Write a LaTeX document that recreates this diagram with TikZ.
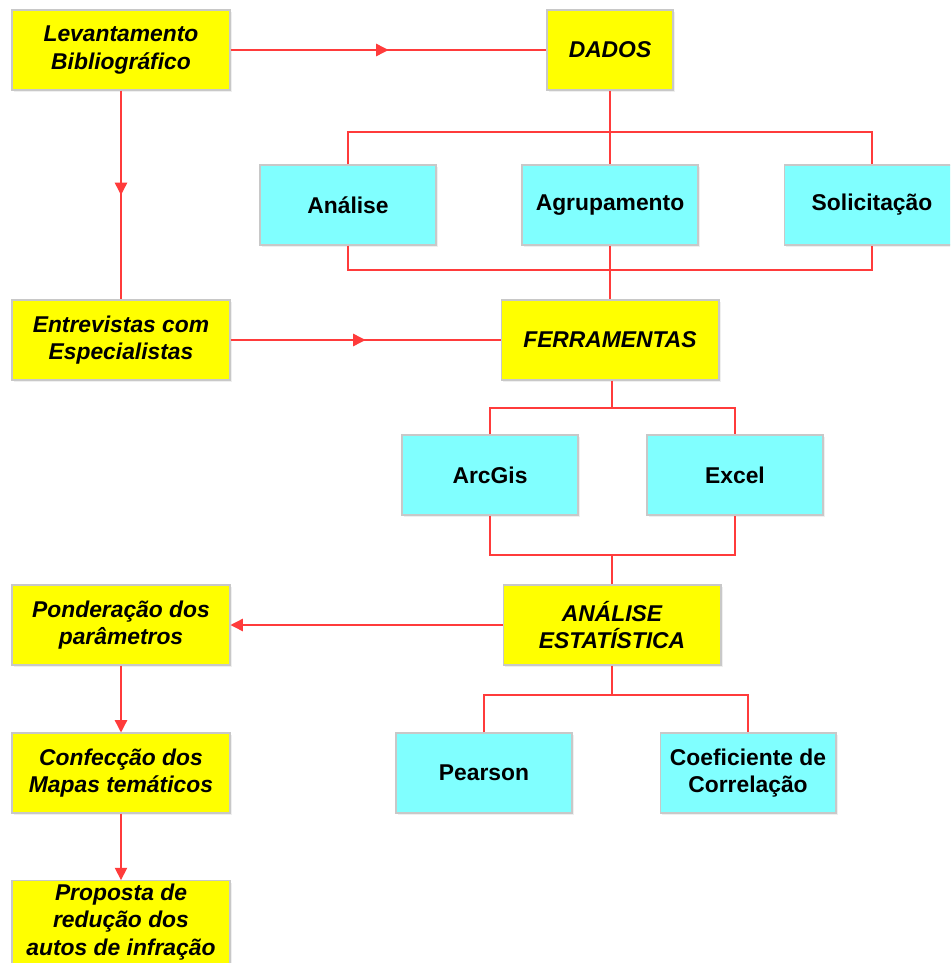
\documentclass[tikz,border=0pt]{standalone}
\usepackage{fontspec}
\setmainfont{Liberation Sans}
\definecolor{BoxYellow}{HTML}{FFFF00}
\definecolor{BoxCyan}{HTML}{80FFFF}
\definecolor{LinkRed}{HTML}{FF3B3B}
\definecolor{EdgeGray}{HTML}{C8C8C8}
\usetikzlibrary{arrows.meta, calc, shadows, decorations.markings}
\tikzset{
  box/.style={draw=EdgeGray, line width=0.6pt, align=center, minimum height=1.6cm, inner sep=2pt,
    font=\fontsize{13}{15.5}\selectfont\bfseries,
    drop shadow={opacity=0.12, shadow xshift=1.2pt, shadow yshift=-1.2pt}},
  yellowbox/.style={box, fill=BoxYellow, minimum width=4.36cm, font=\fontsize{13}{15.5}\selectfont\bfseries\itshape},
  cyanbox/.style={box, fill=BoxCyan, minimum width=3.52cm},
  link/.style={draw=LinkRed, line width=0.8pt},
  arrow/.style={link, -{Triangle[length=7pt, width=7pt]}},
  midarrow/.style={link, postaction={decorate}, decoration={markings,
    mark=at position 0.5 with {\arrow{Triangle[length=7pt, width=7pt]}}}}
}

\begin{document}
\begin{tikzpicture}[x=0.02cm, y=-0.02cm]
\clip (0,0) rectangle (950,963);
\fill[white] (0,0) rectangle (950,963);

% left column
\node[yellowbox] (lev) at (121,50) {Levantamento\\Bibliográfico};
\node[yellowbox] (entrev) at (121,340) {Entrevistas com\\Especialistas};
\node[yellowbox] (pond) at (121,625) {Ponderação dos\\parâmetros};
\node[yellowbox] (confec) at (121,773) {Confecção dos\\Mapas temáticos};
\node[yellowbox] (prop) at (121,922) {Proposta de\\redução dos\\autos de infração};

% main column
\node[yellowbox, minimum width=2.52cm] (dados) at (610,50) {DADOS};
\node[yellowbox] (ferr) at (610,340) {FERRAMENTAS};
\node[yellowbox] (estat) at (612,625) {ANÁLISE\\ESTATÍSTICA};

\node[cyanbox] (analise) at (348,205) {Análise};
\node[cyanbox] (agrup) at (610,205) {Agrupamento};
\node[cyanbox] (solic) at (872,205) {Solicitação};
\node[cyanbox] (arcgis) at (490,475) {ArcGis};
\node[cyanbox] (excel) at (735,475) {Excel};
\node[cyanbox] (pearson) at (484,773) {Pearson};
\node[cyanbox] (coef) at (748,773) {Coeficiente de\\Correlação};

\coordinate (dadosbus) at (610,132);
\coordinate (ferrbus) at (610,270);
\coordinate (ferrbot) at (612,408);
\coordinate (estbus) at (612,555);
\coordinate (estbot) at (612,695);

\draw[link] (dados.south) -- (agrup.north);
\draw[link] (analise.north) |- (dadosbus) -| (solic.north);
\draw[link] (analise.south) |- (ferrbus) -| (solic.south);
\draw[link] (agrup.south) -- (ferr.north);
\draw[link] (ferr.south -| ferrbot) -- (ferrbot);
\draw[link] (arcgis.north) |- (ferrbot) -| (excel.north);
\draw[link] (arcgis.south) |- (estbus) -| (excel.south);
\draw[link] (estbus) -- (estat.north -| estbus);
\draw[link] (estat.south) -- (estbot);
\draw[link] (pearson.north) |- (estbot) -| (coef.north);

\draw[midarrow] (lev.east) -- (dados.west);
\draw[midarrow] (lev.south) -- (entrev.north);
\draw[midarrow] (entrev.east) -- (ferr.west);
\draw[arrow] (estat.west) -- (pond.east);
\draw[arrow] (pond.south) -- (confec.north);
\draw[arrow] (confec.south) -- (prop.north);
\end{tikzpicture}
\end{document}
